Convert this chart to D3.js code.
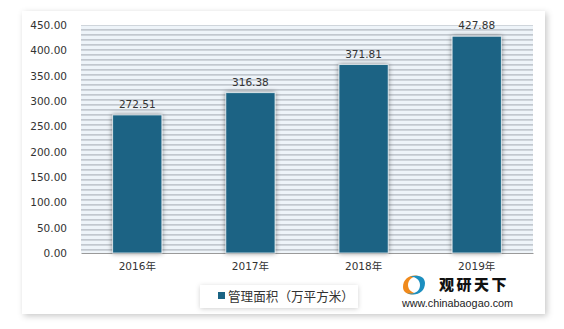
<!DOCTYPE html>
<html>
<head>
<meta charset="utf-8">
<script src="https://cdn.jsdelivr.net/npm/d3@7"></script>
<style>
  body { margin: 0; background: #ffffff; }
  svg { display: block; }
</style>
</head>
<body>
<svg id="chart" width="564" height="329"></svg>
<script>
const years = ['2016年', '2017年', '2018年', '2019年'];
const areaValues = [272.51, 316.38, 371.81, 427.88];
const yTicks = [0, 50, 100, 150, 200, 250, 300, 350, 400, 450];
const seriesName = '管理面积（万平方米）';

const W = 564, H = 329;
const plot = { left: 81, right: 533, top: 25, bottom: 253 };
const font = '"DejaVu Sans", "Noto Sans CJK SC", sans-serif';
const cjk = '"Noto Sans CJK SC", sans-serif';
const barColor = '#1b6484';

const svg = d3.select('#chart');
const defs = svg.append('defs');

// card shadow
const cardShadow = defs.append('filter').attr('id', 'cardShadow')
  .attr('x', '-10%').attr('y', '-10%').attr('width', '120%').attr('height', '120%');
cardShadow.append('feDropShadow')
  .attr('dx', 2).attr('dy', 2).attr('stdDeviation', 3)
  .attr('flood-color', '#000').attr('flood-opacity', 0.22);

const barShadow = defs.append('filter').attr('id', 'barShadow')
  .attr('x', '-30%').attr('y', '-10%').attr('width', '160%').attr('height', '120%');
barShadow.append('feDropShadow')
  .attr('dx', 0).attr('dy', 0).attr('stdDeviation', 2.5)
  .attr('flood-color', '#000').attr('flood-opacity', 0.45);

const legendShadow = defs.append('filter').attr('id', 'legendShadow')
  .attr('x', '-10%').attr('y', '-30%').attr('width', '120%').attr('height', '160%');
legendShadow.append('feDropShadow')
  .attr('dx', 0).attr('dy', 1).attr('stdDeviation', 2.5)
  .attr('flood-color', '#000').attr('flood-opacity', 0.18);

// striped background pattern
const pat = defs.append('pattern').attr('id', 'stripes')
  .attr('patternUnits', 'userSpaceOnUse')
  .attr('x', 0).attr('y', plot.top - 1)
  .attr('width', 10).attr('height', 5);
pat.append('rect').attr('width', 10).attr('height', 5).attr('fill', '#eef4f9');
pat.append('rect').attr('y', 0).attr('width', 10).attr('height', 1.7).attr('fill', '#c2c8cf');

// card
svg.append('rect')
  .attr('x', 22).attr('y', 11).attr('width', 523).attr('height', 303)
  .attr('fill', '#fff')
  .attr('filter', 'url(#cardShadow)');

const x = d3.scaleBand()
  .domain(years)
  .range([plot.left, plot.right])
  .paddingInner(0.565)
  .paddingOuter(0.28);

const y = d3.scaleLinear()
  .domain([0, 450])
  .range([plot.bottom, plot.top]);

// plot background
svg.append('rect')
  .attr('x', plot.left).attr('y', plot.top)
  .attr('width', plot.right - plot.left)
  .attr('height', plot.bottom - plot.top)
  .attr('fill', 'url(#stripes)');

// y axis
const yAxis = svg.append('g')
  .attr('transform', `translate(${plot.left},0)`)
  .call(d3.axisLeft(y).tickValues(yTicks).tickFormat(d3.format('.2f')).tickSize(0).tickPadding(14));
yAxis.select('.domain').remove();
yAxis.selectAll('text')
  .attr('font-family', font).attr('font-size', 10.5).attr('fill', '#333');

// x axis
const xAxis = svg.append('g')
  .attr('transform', `translate(0,${plot.bottom})`)
  .call(d3.axisBottom(x).tickSize(0).tickPadding(10));
xAxis.select('.domain').attr('stroke', '#9a9a9a').attr('stroke-width', 1);
xAxis.selectAll('text')
  .attr('font-family', font).attr('font-size', 10.5).attr('fill', '#333');

// bars
svg.append('g').selectAll('rect')
  .data(areaValues)
  .join('rect')
  .attr('x', (d, i) => x(years[i]))
  .attr('y', d => y(d))
  .attr('width', x.bandwidth())
  .attr('height', d => y(0) - y(d))
  .attr('fill', barColor)
  .attr('stroke', '#e8eef2')
  .attr('stroke-width', 0.8)
  .attr('filter', 'url(#barShadow)');

// value labels
svg.append('g').selectAll('text')
  .data(areaValues)
  .join('text')
  .attr('x', (d, i) => x(years[i]) + x.bandwidth() / 2)
  .attr('y', d => y(d) - 7)
  .attr('text-anchor', 'middle')
  .attr('font-family', font).attr('font-size', 10.5).attr('fill', '#333')
  .text(d => d.toFixed(2));

// legend
const lg = svg.append('g');
lg.append('rect')
  .attr('x', 200).attr('y', 285).attr('width', 158).attr('height', 23)
  .attr('fill', '#fff')
  .attr('filter', 'url(#legendShadow)');
lg.append('rect')
  .attr('x', 218).attr('y', 292).attr('width', 7).attr('height', 7)
  .attr('fill', barColor);
lg.append('text')
  .attr('x', 228).attr('y', 300.5)
  .attr('font-family', cjk).attr('font-size', 12.6).attr('fill', '#333')
  .text(seriesName);

// watermark logo
const logo = svg.append('g');
logo.append('path')
  .attr('d', 'M403,287 C403,277 413,273 421,277 C415,275 408,278 408,285 C408,291 414,294 419,293 C411,296 403,294 403,287 Z')
  .attr('fill', '#f08a1c');
logo.append('path')
  .attr('d', 'M425,283 C425,293 415,297 407,293 C413,295 420,292 420,285 C420,279 414,276 409,277 C417,274 425,276 425,283 Z')
  .attr('fill', '#1c8fc0');
logo.append('text')
  .attr('x', 439).attr('y', 290)
  .attr('font-family', cjk).attr('font-size', 15).attr('font-weight', 900)
  .attr('letter-spacing', 2.5).attr('fill', '#111')
  .text('观研天下');
logo.append('text')
  .attr('x', 402).attr('y', 306.5)
  .attr('font-family', '"Liberation Sans", Arial, sans-serif').attr('font-size', 10.8).attr('fill', '#222')
  .text('www.chinabaogao.com');
</script>
</body>
</html>
